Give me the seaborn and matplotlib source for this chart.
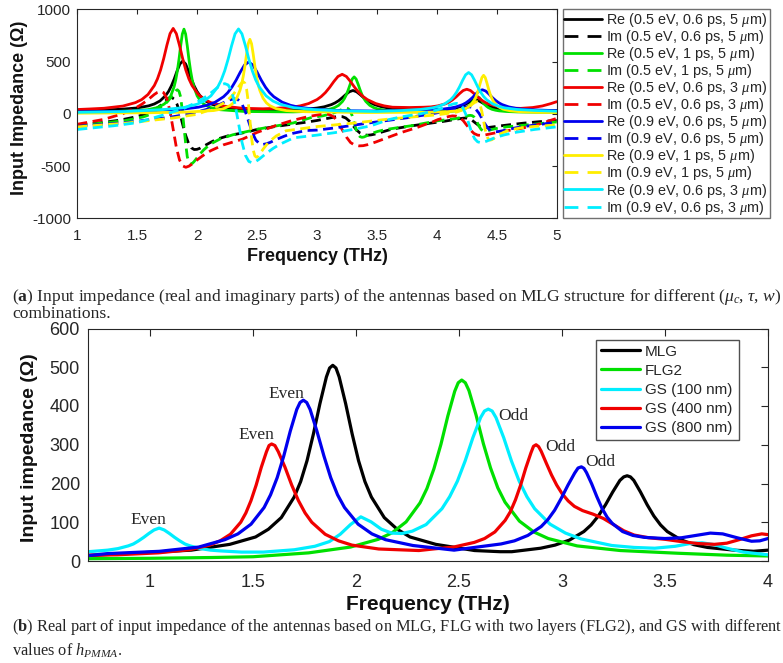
import matplotlib
matplotlib.use("Agg")
import matplotlib.pyplot as plt
import seaborn as sns
import numpy as np

# ---------------- (a) data: (frequency THz, impedance Ohm) ----------------
a_re_k = [(1.00,30),(1.20,36),(1.3575,43),(1.50,56),(1.595,76),(1.6425,94),(1.69,123),(1.7375,175),(1.76125,214),(1.785,267),(1.80875,333),(1.8325,410),(1.85625,477),(1.88,505),(1.90375,477),(1.9275,410),(1.95125,333),(1.975,267),(1.99875,214),(2.0225,175),(2.07,123),(2.1175,94),(2.165,76),(2.26,56),(2.4025,43),(2.60,37),(2.82,40),(2.94,48),(3.00,55),(3.06,67),(3.12,88),(3.15,104),(3.18,125),(3.21,153),(3.24,184),(3.27,211),(3.30,223),(3.33,211),(3.36,184),(3.39,153),(3.42,125),(3.45,104),(3.48,88),(3.54,67),(3.60,55),(3.66,48),(3.78,40),(3.92,34),(4.02,39),(4.07,43),(4.12,49),(4.17,60),(4.195,69),(4.22,80),(4.245,95),(4.27,112),(4.295,127),(4.32,133),(4.345,127),(4.37,112),(4.395,95),(4.42,80),(4.445,69),(4.47,60),(4.52,49),(4.57,43),(4.62,39),(4.72,34),(4.87,31),(5.00,30)]
a_im_k = [(1.00,-105),(1.20,-85),(1.36,-60),(1.50,-26),(1.595,10),(1.6425,38),(1.69,75),(1.7375,125),(1.76125,150),(1.785,158),(1.80875,140),(1.8325,90),(1.85625,5),(1.88,-105),(1.90375,-205),(1.9275,-280),(1.95125,-325),(1.975,-342),(1.99875,-340),(2.0225,-330),(2.07,-300),(2.1175,-270),(2.165,-243),(2.26,-210),(2.40,-178),(2.50,-150),(2.65,-122),(2.80,-98),(2.90,-82),(3.00,-64),(3.06,-50),(3.12,-37),(3.15,-30),(3.18,-26),(3.21,-27),(3.24,-40),(3.27,-70),(3.30,-112),(3.33,-155),(3.36,-185),(3.39,-200),(3.42,-205),(3.45,-202),(3.48,-195),(3.54,-175),(3.60,-155),(3.66,-140),(3.78,-117),(3.90,-97),(4.00,-81),(4.07,-70),(4.12,-60),(4.17,-50),(4.22,-42),(4.245,-40),(4.27,-47),(4.295,-63),(4.32,-86),(4.345,-108),(4.37,-124),(4.395,-131),(4.42,-132),(4.47,-125),(4.52,-117),(4.62,-103),(4.72,-90),(4.85,-76),(5.00,-62)]
a_re_g = [(1.00,15),(1.30,20),(1.5875,39),(1.67,60),(1.725,93),(1.7525,123),(1.78,172),(1.8075,258),(1.82125,324),(1.835,412),(1.84875,523),(1.8625,651),(1.87625,763),(1.89,810),(1.90375,763),(1.9175,651),(1.93125,523),(1.945,412),(1.95875,324),(1.9725,258),(2.00,172),(2.0275,123),(2.055,93),(2.11,60),(2.1925,39),(2.40,22),(2.80,18),(2.9525,24),(3.05,33),(3.115,47),(3.1475,60),(3.18,81),(3.2125,118),(3.22875,146),(3.245,183),(3.26125,231),(3.2775,285),(3.29375,333),(3.31,353),(3.32625,333),(3.3425,285),(3.35875,231),(3.375,183),(3.39125,146),(3.4075,118),(3.44,81),(3.4725,60),(3.505,47),(3.57,33),(3.6675,24),(3.85,18),(4.01,18),(4.10,22),(4.16,28),(4.19,34),(4.22,43),(4.25,59),(4.265,72),(4.28,88),(4.295,109),(4.31,133),(4.325,154),(4.34,163),(4.355,154),(4.37,133),(4.385,109),(4.40,88),(4.415,72),(4.43,59),(4.46,43),(4.49,34),(4.52,28),(4.58,22),(4.67,18),(4.85,15),(5.00,14)]
a_im_g = [(1.00,-110),(1.20,-90),(1.40,-65),(1.55,-30),(1.5875,-15),(1.67,38),(1.725,85),(1.7525,117),(1.78,155),(1.8075,200),(1.82125,220),(1.835,230),(1.84875,215),(1.8625,160),(1.87625,30),(1.89,-125),(1.90375,-280),(1.9175,-410),(1.93125,-465),(1.945,-480),(1.95875,-475),(1.9725,-460),(2.00,-420),(2.0275,-380),(2.055,-345),(2.11,-290),(2.1925,-240),(2.30,-200),(2.50,-148),(2.65,-118),(2.80,-88),(2.9525,-36),(3.05,-19),(3.115,-1),(3.1475,12),(3.18,27),(3.2125,44),(3.22875,52),(3.245,55),(3.26125,49),(3.2775,27),(3.29375,-19),(3.31,-85),(3.32625,-151),(3.3425,-197),(3.35875,-219),(3.375,-225),(3.39125,-222),(3.4075,-214),(3.44,-197),(3.4725,-182),(3.505,-169),(3.57,-151),(3.6675,-134),(3.80,-112),(3.90,-90),(4.01,-66),(4.10,-55),(4.16,-45),(4.19,-38),(4.22,-30),(4.25,-21),(4.265,-17),(4.28,-15),(4.295,-18),(4.31,-30),(4.325,-55),(4.34,-90),(4.355,-125),(4.37,-150),(4.385,-162),(4.40,-165),(4.415,-163),(4.43,-159),(4.46,-150),(4.49,-142),(4.52,-135),(4.58,-125),(4.67,-116),(4.85,-95),(5.00,-78)]
a_re_r = [(1.00,41),(1.10,46),(1.2225,53),(1.38,74),(1.485,107),(1.5375,136),(1.59,185),(1.6425,270),(1.66875,334),(1.695,420),(1.72125,530),(1.7475,656),(1.77375,767),(1.80,817),(1.82625,767),(1.8525,656),(1.87875,530),(1.905,420),(1.93125,334),(1.9575,270),(2.01,185),(2.0625,136),(2.115,107),(2.22,74),(2.3775,53),(2.55,48),(2.65,52),(2.79,63),(2.86,76),(2.93,98),(3.00,136),(3.035,165),(3.07,203),(3.105,252),(3.14,308),(3.175,357),(3.21,378),(3.245,357),(3.28,308),(3.315,252),(3.35,203),(3.385,165),(3.42,136),(3.49,98),(3.56,76),(3.63,63),(3.77,60),(3.89,63),(3.95,66),(4.01,76),(4.07,95),(4.10,111),(4.13,133),(4.16,161),(4.19,194),(4.22,223),(4.25,235),(4.28,223),(4.31,194),(4.34,161),(4.37,133),(4.40,111),(4.43,95),(4.49,76),(4.55,62),(4.61,55),(4.70,52),(4.80,60),(4.88,75),(4.95,97),(5.00,116)]
a_im_r = [(1.00,-100),(1.2225,-53),(1.38,1),(1.485,55),(1.5375,91),(1.59,135),(1.6425,185),(1.66875,205),(1.695,216),(1.72125,202),(1.7475,145),(1.77375,24),(1.80,-148),(1.82625,-320),(1.8525,-441),(1.87875,-498),(1.905,-512),(1.93125,-501),(1.9575,-481),(2.01,-432),(2.0625,-388),(2.115,-352),(2.22,-297),(2.3775,-243),(2.50,-178),(2.58,-145),(2.65,-115),(2.72,-90),(2.79,-65),(2.86,-45),(2.93,-26),(3.00,-12),(3.035,-5),(3.07,-2),(3.105,-8),(3.14,-30),(3.175,-80),(3.21,-152),(3.245,-222),(3.28,-275),(3.315,-300),(3.35,-307),(3.385,-305),(3.42,-296),(3.49,-270),(3.56,-240),(3.63,-210),(3.70,-180),(3.77,-155),(3.85,-125),(3.92,-95),(3.97,-75),(4.01,-55),(4.07,-35),(4.10,-26),(4.13,-20),(4.16,-22),(4.19,-35),(4.22,-65),(4.25,-110),(4.28,-155),(4.31,-188),(4.34,-204),(4.37,-207),(4.40,-203),(4.43,-196),(4.49,-182),(4.55,-169),(4.61,-157),(4.70,-140),(4.80,-115),(4.88,-90),(4.95,-62),(5.00,-44)]
a_re_b = [(1.00,18),(1.40,24),(1.66,32),(1.87,43),(2.01,63),(2.08,81),(2.15,111),(2.22,163),(2.255,202),(2.29,255),(2.325,322),(2.36,399),(2.395,467),(2.43,495),(2.465,467),(2.50,399),(2.535,322),(2.57,255),(2.605,202),(2.64,163),(2.71,111),(2.78,81),(2.85,63),(2.99,43),(3.20,30),(3.50,26),(3.775,32),(3.94,37),(4.05,45),(4.105,53),(4.16,66),(4.215,88),(4.2425,105),(4.27,128),(4.2975,156),(4.325,189),(4.3525,218),(4.38,230),(4.4075,218),(4.435,189),(4.4625,156),(4.49,128),(4.5175,105),(4.545,88),(4.60,66),(4.655,53),(4.71,45),(4.82,37),(5.00,30)]
a_im_b = [(1.00,-120),(1.40,-85),(1.77,-34),(1.95,3),(2.07,39),(2.13,63),(2.19,91),(2.25,123),(2.28,136),(2.31,143),(2.34,136),(2.37,102),(2.40,29),(2.43,-75),(2.46,-179),(2.49,-252),(2.52,-286),(2.55,-293),(2.58,-286),(2.61,-273),(2.67,-241),(2.73,-213),(2.79,-189),(2.91,-160),(3.00,-156),(3.15,-135),(3.30,-110),(3.45,-85),(3.60,-62),(3.75,-38),(3.85,-20),(3.94,-4),(4.05,20),(4.105,31),(4.16,44),(4.215,59),(4.2425,65),(4.27,67),(4.2975,62),(4.325,44),(4.3525,4),(4.38,-52),(4.4075,-108),(4.435,-148),(4.4625,-167),(4.49,-172),(4.5175,-169),(4.545,-163),(4.60,-148),(4.655,-135),(4.71,-124),(4.82,-108),(5.00,-80)]
a_re_y = [(1.00,6),(1.60,10),(1.90,16),(2.1375,31),(2.22,49),(2.275,79),(2.3025,105),(2.33,149),(2.3575,225),(2.37125,283),(2.385,361),(2.39875,459),(2.4125,572),(2.42625,671),(2.44,713),(2.45375,671),(2.4675,572),(2.48125,459),(2.495,361),(2.50875,283),(2.5225,225),(2.55,149),(2.5775,105),(2.605,79),(2.66,49),(2.7425,31),(2.90,20),(3.40,12),(3.90,15),(4.0875,20),(4.17,29),(4.225,44),(4.2525,58),(4.28,80),(4.3075,119),(4.32125,148),(4.335,188),(4.34875,238),(4.3625,296),(4.37625,347),(4.39,368),(4.40375,347),(4.4175,296),(4.43125,238),(4.445,188),(4.45875,148),(4.4725,119),(4.50,80),(4.5275,58),(4.555,44),(4.61,29),(4.6925,20),(4.85,14),(5.00,12)]
a_im_y = [(1.00,-125),(1.40,-90),(1.80,-40),(2.00,-5),(2.1375,52),(2.22,102),(2.275,153),(2.3025,188),(2.33,230),(2.3575,276),(2.37125,296),(2.385,306),(2.39875,292),(2.4125,235),(2.42625,116),(2.44,-55),(2.45375,-226),(2.4675,-345),(2.48125,-402),(2.495,-416),(2.50875,-406),(2.5225,-386),(2.55,-339),(2.5775,-298),(2.605,-263),(2.66,-212),(2.7425,-162),(2.90,-138),(3.00,-122),(3.30,-90),(3.60,-50),(3.90,-20),(4.00,-10),(4.10,5),(4.17,18),(4.225,42),(4.2525,59),(4.28,79),(4.3075,102),(4.32125,112),(4.335,116),(4.34875,109),(4.3625,79),(4.37625,18),(4.39,-68),(4.40375,-154),(4.4175,-215),(4.43125,-245),(4.445,-252),(4.45875,-248),(4.4725,-238),(4.50,-215),(4.5275,-195),(4.555,-178),(4.61,-154),(4.70,-135),(4.80,-122),(5.00,-107)]
a_re_c = [(1.00,14),(1.40,22),(1.7125,40),(1.885,59),(2.00,92),(2.0575,122),(2.115,172),(2.1725,258),(2.20125,324),(2.23,412),(2.25875,524),(2.2875,652),(2.31625,765),(2.345,812),(2.37375,765),(2.4025,652),(2.43125,524),(2.46,412),(2.48875,324),(2.5175,258),(2.575,172),(2.6325,122),(2.69,92),(2.805,59),(2.9775,40),(3.20,28),(3.50,22),(3.715,32),(3.865,42),(3.965,57),(4.015,72),(4.065,95),(4.115,135),(4.14,166),(4.165,208),(4.19,260),(4.215,320),(4.24,373),(4.265,395),(4.29,373),(4.315,320),(4.34,260),(4.365,208),(4.39,166),(4.415,135),(4.465,95),(4.515,72),(4.565,57),(4.665,42),(4.815,32),(5.00,25)]
a_im_c = [(1.00,-150),(1.30,-115),(1.50,-85),(1.7125,-13),(1.885,50),(2.00,112),(2.0575,152),(2.115,200),(2.1725,254),(2.20125,277),(2.23,289),(2.25875,276),(2.2875,217),(2.31625,90),(2.345,-90),(2.37375,-270),(2.4025,-397),(2.43125,-456),(2.46,-469),(2.48875,-457),(2.5175,-434),(2.575,-380),(2.6325,-332),(2.69,-292),(2.805,-230),(3.00,-204),(3.15,-180),(3.30,-150),(3.45,-115),(3.60,-55),(3.70,-30),(3.865,0),(3.965,25),(4.015,42),(4.065,62),(4.115,86),(4.14,95),(4.165,100),(4.19,92),(4.215,62),(4.24,0),(4.265,-88),(4.29,-176),(4.315,-238),(4.34,-268),(4.365,-276),(4.39,-271),(4.415,-262),(4.465,-238),(4.515,-218),(4.565,-201),(4.665,-176),(4.815,-150),(5.00,-125)]

a_labels = ["Re (0.5 eV, 0.6 ps, 5 $\\mu$m)", "Im (0.5 eV, 0.6 ps, 5 $\\mu$m)",
            "Re (0.5 eV, 1 ps, 5 $\\mu$m)", "Im (0.5 eV, 1 ps, 5 $\\mu$m)",
            "Re (0.5 eV, 0.6 ps, 3 $\\mu$m)", "Im (0.5 eV, 0.6 ps, 3 $\\mu$m)",
            "Re (0.9 eV, 0.6 ps, 5 $\\mu$m)", "Im (0.9 eV, 0.6 ps, 5 $\\mu$m)",
            "Re (0.9 eV, 1 ps, 5 $\\mu$m)", "Im (0.9 eV, 1 ps, 5 $\\mu$m)",
            "Re (0.9 eV, 0.6 ps, 3 $\\mu$m)", "Im (0.9 eV, 0.6 ps, 3 $\\mu$m)"]
a_curves = [a_re_k, a_im_k, a_re_g, a_im_g, a_re_r, a_im_r,
            a_re_b, a_im_b, a_re_y, a_im_y, a_re_c, a_im_c]
a_xticks = [1, 1.5, 2, 2.5, 3, 3.5, 4, 4.5, 5]
a_yticks = [-1000, -500, 0, 500, 1000]

# ---------------- (b) data ----------------
b_mlg = [(0.70,14),(0.95,21),(1.20,28),(1.387,43),(1.512,62),(1.5745,82),(1.637,112),(1.6995,165),(1.731,205),(1.762,259),(1.793,328),(1.8245,406),(1.856,475),(1.8715,498),(1.887,505),(1.9025,498),(1.918,475),(1.9495,406),(1.981,328),(2.012,259),(2.043,205),(2.0745,165),(2.137,112),(2.1995,82),(2.262,62),(2.387,43),(2.575,27),(2.70,24),(2.756,24),(2.896,33),(2.966,41),(3.036,54),(3.106,76),(3.141,93),(3.176,116),(3.211,145),(3.246,178),(3.281,208),(3.2995,217),(3.316,220),(3.3323,217),(3.3485,208),(3.381,178),(3.4135,145),(3.446,116),(3.4785,93),(3.511,76),(3.576,55),(3.641,42),(3.706,35),(3.836,28),(3.93,25),(4.00,28)]
b_flg2 = [(0.70,6),(1.00,7),(1.30,9),(1.50,11),(1.77,21),(1.973,36),(2.108,56),(2.1755,73),(2.243,101),(2.3105,150),(2.344,187),(2.378,238),(2.412,301),(2.4455,374),(2.479,438),(2.496,460),(2.513,467),(2.5305,460),(2.548,440),(2.583,376),(2.618,303),(2.653,240),(2.688,189),(2.723,152),(2.793,103),(2.863,75),(2.933,58),(3.073,39),(3.283,27),(3.563,20),(3.80,15),(4.00,13)]
b_gs100 = [(0.70,24),(0.794,28),(0.844,32),(0.894,39),(0.919,44),(0.944,52),(0.969,61),(0.994,71),(1.019,80),(1.044,85),(1.069,80),(1.094,71),(1.119,61),(1.144,52),(1.169,44),(1.194,39),(1.244,32),(1.294,28),(1.344,26),(1.444,23),(1.55,23),(1.70,29),(1.80,38),(1.87,50),(1.923,69),(1.973,94),(2.023,114),(2.073,101),(2.123,82),(2.173,72),(2.223,71),(2.273,77),(2.34,94),(2.417,135),(2.4545,166),(2.492,206),(2.5295,258),(2.567,318),(2.6045,370),(2.6233,387),(2.642,392),(2.6608,387),(2.6795,370),(2.717,318),(2.7545,258),(2.792,206),(2.8295,166),(2.867,135),(2.942,95),(3.017,72),(3.092,57),(3.242,40),(3.35,35),(3.45,33),(3.55,38),(3.62,45),(3.68,47),(3.74,42),(3.80,33),(3.88,23),(4.00,16)]
b_gs400 = [(0.70,15),(0.84,16),(1.04,21),(1.19,29),(1.29,41),(1.34,52),(1.39,69),(1.44,100),(1.465,124),(1.49,156),(1.515,196),(1.54,242),(1.565,282),(1.5775,298),(1.59,302),(1.606,298),(1.6225,282),(1.655,242),(1.6875,196),(1.72,156),(1.7525,124),(1.785,100),(1.85,69),(1.915,52),(1.98,41),(2.11,31),(2.305,27),(2.374,31),(2.474,36),(2.574,48),(2.624,58),(2.674,75),(2.724,105),(2.749,127),(2.774,158),(2.799,196),(2.824,240),(2.849,279),(2.8615,296),(2.874,300),(2.8865,295),(2.899,283),(2.924,252),(2.949,222),(2.974,196),(3.00,174),(3.03,155),(3.06,141),(3.10,130),(3.15,121),(3.20,110),(3.25,94),(3.30,78),(3.35,67),(3.42,60),(3.50,56),(3.58,50),(3.66,45),(3.74,43),(3.80,46),(3.86,55),(3.92,65),(3.97,70),(4.00,68)]
b_gs800 = [(0.70,14),(0.79,19),(1.045,25),(1.236,36),(1.363,55),(1.4265,70),(1.49,95),(1.5535,138),(1.585,171),(1.617,215),(1.649,271),(1.6805,335),(1.712,391),(1.728,409),(1.744,415),(1.7605,409),(1.777,391),(1.81,335),(1.844,271),(1.877,215),(1.91,171),(1.944,138),(2.01,95),(2.077,70),(2.143,55),(2.276,40),(2.476,28),(2.574,35),(2.704,44),(2.769,52),(2.834,66),(2.899,89),(2.9315,107),(2.964,131),(2.9965,162),(3.029,196),(3.0615,227),(3.0778,240),(3.094,243),(3.1065,239),(3.119,228),(3.144,199),(3.169,166),(3.194,136),(3.219,113),(3.244,97),(3.294,76),(3.344,66),(3.40,61),(3.50,58),(3.58,60),(3.65,66),(3.72,72),(3.78,70),(3.85,60),(3.92,51),(3.96,52),(4.00,58)]
b_labels = ["MLG", "FLG2", "GS (100 nm)", "GS (400 nm)", "GS (800 nm)"]
b_curves = [b_mlg, b_flg2, b_gs100, b_gs400, b_gs800]
b_notes = [("Even", 0.994, 106), ("Even", 1.516, 324), ("Even", 1.663, 432),
           ("Odd", 2.765, 375), ("Odd", 2.992, 295), ("Odd", 3.186, 255)]
b_xticks = [1, 1.5, 2, 2.5, 3, 3.5, 4]
b_yticks = [0, 100, 200, 300, 400, 500, 600]

cap_a1 = "($\\mathbf{a}$) Input impedance (real and imaginary parts) of the antennas based on MLG structure for different ($\\mu_c$, $\\tau$, $w$)"
cap_a2 = "combinations."
cap_b1 = "($\\mathbf{b}$) Real part of input impedance of the antennas based on MLG, FLG with two layers (FLG2), and GS with different"
cap_b2 = "values of $h_{PMMA}$."

# ---------------- style ----------------
sns.set_theme(style="white")
plt.rcParams["font.family"] = ["Liberation Sans", "DejaVu Sans"]
plt.rcParams["mathtext.fontset"] = "custom"
plt.rcParams["mathtext.rm"] = "Liberation Serif"
plt.rcParams["mathtext.it"] = "Liberation Serif:italic"
plt.rcParams["mathtext.bf"] = "Liberation Serif:bold"
plt.rcParams["axes.unicode_minus"] = False

BLACK, GREEN, RED, BLUE, YELLOW, CYAN = "#000000", "#00e000", "#f00000", "#0000ee", "#ffee00", "#00eeff"
a_colors = [BLACK, BLACK, GREEN, GREEN, RED, RED, BLUE, BLUE, YELLOW, YELLOW, CYAN, CYAN]
a_styles = ["-", "--"] * 6
b_colors = [BLACK, GREEN, CYAN, RED, BLUE]
DASH = (0, (3.6, 2.0))

W, H = 783, 663
fig = plt.figure(figsize=(W / 100, H / 100), dpi=100)
ax1 = fig.add_axes([77.3 / W, 1 - 218.3 / H, (556.7 - 77.3) / W, (218.3 - 9.3) / H])
ax2 = fig.add_axes([88.3 / W, 1 - 561 / H, (768 - 88.3) / W, (561 - 328.5) / H])

for pts, lab, col, st in zip(a_curves, a_labels, a_colors, a_styles):
    f = np.array([p[0] for p in pts]); v = np.array([p[1] for p in pts])
    sns.lineplot(x=f, y=v, ax=ax1, color=col, linewidth=2.0,
                 linestyle=(DASH if st == "--" else "-"), label=lab,
                 estimator=None, sort=False)

for pts, lab, col in zip(b_curves, b_labels, b_colors):
    f = np.array([p[0] for p in pts]); v = np.array([p[1] for p in pts])
    sns.lineplot(x=f, y=v, ax=ax2, color=col, linewidth=2.3, label=lab,
                 estimator=None, sort=False)

for txt, fx, fy in b_notes:
    ax2.text(fx, fy, txt, ha="center", va="center", fontsize=12.5,
             family=["Liberation Serif", "DejaVu Serif"])

for ax in (ax1, ax2):
    for s in ax.spines.values():
        s.set_color("#262626"); s.set_linewidth(0.8); s.set_visible(True)

ax1.set_xlim(1, 5); ax1.set_ylim(-1000, 1000)
ax1.set_xticks(a_xticks); ax1.set_xticklabels([f"{t:g}" for t in a_xticks])
ax1.set_yticks(a_yticks); ax1.set_yticklabels([f"{t:g}" for t in a_yticks])
ax1.tick_params(direction="in", top=True, right=True, length=3.5, width=0.8,
                color="#262626", labelsize=11, labelcolor="#262626")
ax1.tick_params(axis="x", pad=7.5)
ax1.tick_params(axis="y", pad=4.5)
ax1.set_xlabel("Frequency (THz)", fontsize=13, fontweight="bold", color="#111111")
ax1.set_ylabel("Input Impedance (\u03a9)", fontsize=13, fontweight="bold", color="#111111")
ax1.xaxis.set_label_coords(0.5, -0.142)
ax1.yaxis.set_label_coords(-0.102, 0.53)

ax2.set_xlim(0.7, 4); ax2.set_ylim(0, 600)
ax2.set_xticks(b_xticks); ax2.set_xticklabels([f"{t:g}" for t in b_xticks])
ax2.set_yticks(b_yticks); ax2.set_yticklabels([f"{t:g}" for t in b_yticks])
ax2.tick_params(direction="in", top=True, right=True, length=4.9, width=0.8,
                color="#262626", labelsize=13, labelcolor="#262626")
ax2.tick_params(axis="x", pad=9.5)
ax2.tick_params(axis="y", pad=6)
ax2.set_xlabel("Frequency (THz)", fontsize=15, fontweight="bold", color="#111111")
ax2.set_ylabel("Input impedance (\u03a9)", fontsize=14, fontweight="bold", color="#111111")
ax2.xaxis.set_label_coords(0.5, -0.146)
ax2.yaxis.set_label_coords(-0.0747, 0.489)


def make_legend(ax, box, fs, spacing, pad, edge, lw, styles=None):
    x0, top, x1, bottom = box
    leg = ax.legend(loc="upper left",
                    bbox_to_anchor=(x0 / W, 1 - bottom / H, (x1 - x0) / W, (bottom - top) / H),
                    bbox_transform=fig.transFigure, mode="expand", borderaxespad=0,
                    fontsize=fs, handlelength=2.6, handletextpad=0.3, labelspacing=spacing,
                    borderpad=pad, fancybox=False, framealpha=1, edgecolor=edge)
    leg.get_frame().set_linewidth(1.0)
    for i, ln in enumerate(leg.get_lines()):
        ln.set_linewidth(lw)
        if styles is not None and styles[i] == "--":
            ln.set_linestyle((0, (5.0, 3.3)))
    return leg


def fit_legend(ax, box, fs, pad, edge, lw, n, styles=None):
    s0 = 0.2
    leg = make_legend(ax, box, fs, s0, pad, edge, lw, styles)
    fig.canvas.draw()
    h0 = leg.get_window_extent(fig.canvas.get_renderer()).height
    target = box[3] - box[1]
    s1 = s0 + (target - h0) / ((n - 1) * fs * 100 / 72)
    leg.remove()
    return make_legend(ax, box, fs, s1, pad, edge, lw, styles)


fit_legend(ax1, (562.7, 9.3, 770, 218.3), 10.4, 0.12, "#707070", 2.0, 12, a_styles)
fit_legend(ax2, (596, 340, 739.3, 440), 11, 0.3, "#505050", 2.3, 5)

serif = ["Liberation Serif", "DejaVu Serif"]
ca1 = fig.text(12.5 / W, 1 - 301 / H, cap_a1, fontsize=11, family=serif, va="baseline", ha="left")
ca2 = fig.text(12.5 / W, 1 - 318.3 / H, cap_a2, fontsize=11, family=serif, va="baseline", ha="left")
cb1 = fig.text(12.5 / W, 1 - 630.7 / H, cap_b1, fontsize=11, family=serif, va="baseline", ha="left")
cb2 = fig.text(12.5 / W, 1 - 656 / H, cap_b2, fontsize=11, family=serif, va="baseline", ha="left")
fig.canvas.draw()
r = fig.canvas.get_renderer()
for main, sub in ((ca1, ca2), (cb1, cb2)):
    w = main.get_window_extent(r).width
    fs = main.get_fontsize() * 769.0 / w
    main.set_fontsize(fs); sub.set_fontsize(fs)

fig.savefig("out.png", dpi=100, facecolor="white")
